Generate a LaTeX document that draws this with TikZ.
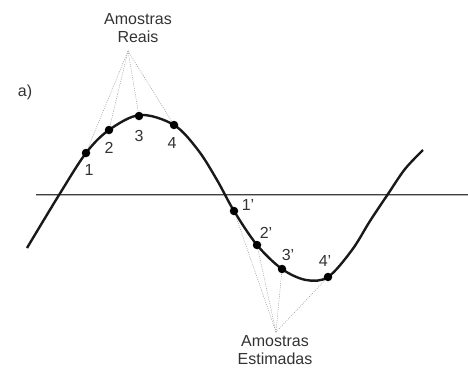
\documentclass[tikz,border=0pt]{standalone}
\usepackage{fontspec}
\setmainfont{Liberation Sans}
\begin{document}
\begin{tikzpicture}[x=1pt,y=-1pt,
  lbl/.style={inner sep=0pt, font=\fontsize{16}{18.5}\selectfont, text=black!80},
  smp/.style={circle, fill=black, inner sep=0pt, minimum size=8.5pt},
  guide/.style={gray!80, line width=0.5pt, dash pattern=on 1pt off 1.2pt},
  wave/.style={line width=2.4pt, black!90},
  axisline/.style={line width=0.9pt, black!75, double=gray!60, double distance=0.8pt}]
\useasboundingbox (0,0) rectangle (468,369);
% axis
\coordinate (axL) at (36,195);
\coordinate (axR) at (468,195);
\draw[axisline] (axL) -- (axR);
% wave
\draw[wave] plot[smooth, tension=0.55] coordinates {
  (27,248) (59,195) (86,153) (109,130) (140,115) (174,125) (198,150)
  (217,180) (234,211) (257,245) (282,269) (306,280) (328,277)
  (352,250) (370,221) (388,194) (405,169) (423,150)};
% samples
\node[smp] (p1) at (86,153) {};
\node[smp] (p2) at (109,130) {};
\node[smp] (p3) at (139,116) {};
\node[smp] (p4) at (174,125) {};
\node[smp] (q1) at (234,211) {};
\node[smp] (q2) at (257,245) {};
\node[smp] (q3) at (282,269) {};
\node[smp] (q4) at (328,277) {};
% labels
\node[lbl] (l1) at (89,170) {1};
\node[lbl] (l2) at (109,148) {2};
\node[lbl] (l3) at (139,136) {3};
\node[lbl] (l4) at (172,143) {4};
\node[lbl] (m1) at (248,205) {1'};
\node[lbl] (m2) at (266,233) {2'};
\node[lbl] (m3) at (288,255) {3'};
\node[lbl] (m4) at (325,261) {4'};
\node[lbl] (a) at (25,92) {a)};
\node[lbl, align=center] (reais) at (138,28) {Amostras\\Reais};
\node[lbl, align=center] (estim) at (275,350) {Amostras\\Estimadas};
% convergence points
\coordinate (cr) at (128,51);
\coordinate (ce) at (276,332);
\foreach \n in {p1,p2,p3,p4} \draw[guide] (cr) -- (\n);
\foreach \n in {q1,q2,q3,q4} \draw[guide] (ce) -- (\n);
\end{tikzpicture}
\end{document}
